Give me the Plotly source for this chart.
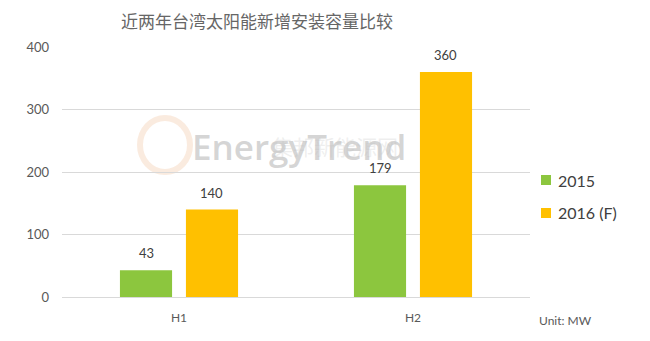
import plotly.graph_objects as go

categories = ["H1", "H2"]
series_names = ["2015", "2016 (F)"]
values_2015 = [43, 179]
values_2016 = [140, 360]
y_ticks = [0, 100, 200, 300, 400]

colors = ["#8CC63E", "#FFC000"]
text_color = "#595959"
label_font = "Lato, Open Sans, sans-serif"

fig = go.Figure()
series_values = [values_2015, values_2016]
for i, (name, vals) in enumerate(zip(series_names, series_values)):
    fig.add_trace(go.Bar(
        x=categories, y=vals, name=name, offsetgroup=str(i),
        marker=dict(color=colors[i], line=dict(width=0)),
        showlegend=False,
    ))

fig.update_layout(
    width=650, height=341,
    margin=dict(l=62, r=120, t=47, b=44),
    paper_bgcolor="white", plot_bgcolor="white",
    barmode="group", bargap=0.436, bargroupgap=0.21,
    font=dict(family=label_font, color=text_color),
    showlegend=False,
    yaxis=dict(range=[0, 400], tickvals=y_ticks, showgrid=True,
               gridcolor="#D9D9D9", gridwidth=1, zeroline=True,
               zerolinecolor="#D9D9D9", zerolinewidth=1,
               tickfont=dict(size=13, color=text_color, family=label_font), ticks="",
               ticklabelstandoff=12, fixedrange=True),
    xaxis=dict(tickfont=dict(size=12, color=text_color, family=label_font), ticks="",
               showline=False, ticklabelstandoff=12),
)

# Data labels (placed above each bar, from the data)
group_width = 1 - 0.436
slot = group_width / 2
for i, vals in enumerate(series_values):
    for j, v in enumerate(vals):
        fig.add_annotation(x=j - group_width / 2 + slot * (i + 0.5), y=v, xref="x", yref="y",
                           text=str(v), showarrow=False, yanchor="bottom", yshift=7,
                           font=dict(size=13, color="#404040", family=label_font))

# Manual legend
legend_y = [180, 213]
for i, name in enumerate(series_names):
    yc = (297 - legend_y[i]) / 250
    fig.add_shape(type="rect", xref="paper", yref="paper",
                  x0=(541 - 62) / 468, x1=(551 - 62) / 468,
                  y0=yc - 5 / 250, y1=yc + 5 / 250,
                  fillcolor=colors[i], line=dict(width=0))
    fig.add_annotation(text=name, xref="paper", yref="paper",
                       x=(556 - 62) / 468, y=yc, showarrow=False,
                       xanchor="left", yanchor="middle",
                       font=dict(size=16, color="#404040", family=label_font))

# Title
fig.add_annotation(text="近两年台湾太阳能新增安装容量比较", xref="paper", yref="paper",
                   x=(257 - 62) / 468, y=1.0, yshift=27, showarrow=False,
                   font=dict(size=17, color="#666666", family="Noto Sans CJK SC"),
                   xanchor="center", yanchor="middle")

# Unit note
fig.add_annotation(text="Unit: MW", xref="paper", yref="paper",
                   x=(537 - 62) / 468, y=0, yshift=-23, showarrow=False,
                   xanchor="left", yanchor="middle",
                   font=dict(size=12, color=text_color, family=label_font))

# Watermark
fig.add_shape(type="path", xref="paper", yref="paper",
              path="M %f,%f A 0.053,0.108 0 0 1 %f,%f" % (
                  (165 - 62) / 468, (297 - 118) / 250, (165 - 62) / 468, (297 - 172) / 250),
              line=dict(color="rgba(200,225,160,0.4)", width=6), layer="below")
fig.add_shape(type="circle", xref="paper", yref="paper",
              x0=(140 - 62) / 468, x1=(190 - 62) / 468,
              y0=(297 - 172) / 250, y1=(297 - 118) / 250,
              line=dict(color="rgba(240,190,150,0.3)", width=6), layer="below")
fig.add_annotation(text="EnergyTrend", xref="paper", yref="paper",
                   x=(299 - 62) / 468, y=(297 - 146) / 250, showarrow=False,
                   xanchor="center", yanchor="middle",
                   font=dict(size=35, color="rgba(185,185,185,0.6)",
                             family="Open Sans, sans-serif", weight=600))
fig.add_annotation(text="集邦新能源网", xref="paper", yref="paper",
                   x=(335 - 62) / 468, y=(297 - 146) / 250, showarrow=False,
                   xanchor="center", yanchor="middle",
                   font=dict(size=21, color="rgba(190,190,190,0.25)", family="Noto Sans CJK SC"))

fig.write_html("out.html")
